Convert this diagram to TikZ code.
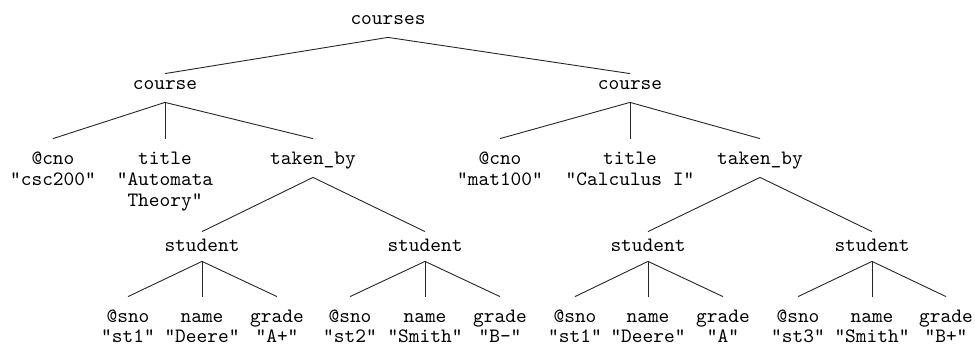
\documentclass[tikz,border=0pt]{standalone}
\usepackage{tikz}
\usepackage{xcolor}

\tikzset{
  tag/.style={font=\ttfamily\fontsize{10.2}{10.5}\selectfont, inner sep=0pt, anchor=base, text height=8pt, text depth=6pt},
  kid/.style={tag, text height=13pt},
  stu/.style={tag, text height=10pt, text depth=4.5pt},
  val/.style={font=\ttfamily\fontsize{10.2}{10.5}\selectfont, inner sep=0pt, anchor=base, align=center},
  twig/.style={draw=black!85, line width=0.45pt}
}

\begin{document}
\begin{tikzpicture}[x=0.5pt,y=-0.5pt]
\useasboundingbox (0,0) rectangle (975,352);
% root and the two courses
\node[tag] (courses) at (388,25) {courses};
\node[tag] (courseL) at (165,90) {course};
\node[tag] (courseR) at (630,90) {course};
\draw[twig] (courses.south) -- (courseL.north);
\draw[twig] (courses.south) -- (courseR.north);

% children of the first course
\node[kid] (cnoL) at (53,165) {@cno};
\node[kid] (titleL) at (165,165) {title};
\node[kid] (takenL) at (313,165) {taken\_by};
\node[val] (cnoLv) at (53,186) {"csc200"};
% base of a two-line node is its last line
\node[val] (titleLv) at (165,207) {"Automata\\Theory"};
\draw[twig] (courseL.south) -- (cnoL.north);
\draw[twig] (courseL.south) -- (titleL.north);
\draw[twig] (courseL.south) -- (takenL.north);

% children of the second course
\node[kid] (cnoR) at (500,165) {@cno};
\node[kid] (titleR) at (630,165) {title};
\node[kid] (takenR) at (760,165) {taken\_by};
\node[val] (cnoRv) at (500,186) {"mat100"};
\node[val] (titleRv) at (630,186) {"Calculus I"};
\draw[twig] (courseR.south) -- (cnoR.north);
\draw[twig] (courseR.south) -- (titleR.north);
\draw[twig] (courseR.south) -- (takenR.north);

% students
\node[stu] (stuLL) at (202,252) {student};
\node[stu] (stuLR) at (425,252) {student};
\node[stu] (stuRL) at (648,252) {student};
\node[stu] (stuRR) at (872,252) {student};
\draw[twig] (takenL.south) -- (stuLL.north);
\draw[twig] (takenL.south) -- (stuLR.north);
\draw[twig] (takenR.south) -- (stuRL.north);
\draw[twig] (takenR.south) -- (stuRR.north);

% student st1, csc200
\node[kid] (snoLL) at (128,323) {@sno};
\node[kid] (nameLL) at (202,323) {name};
\node[kid] (gradeLL) at (277,323) {grade};
\node[val] (snoLLv) at (128,343) {"st1"};
\node[val] (nameLLv) at (202,343) {"Deere"};
\node[val] (gradeLLv) at (277,343) {"A+"};
\draw[twig] (stuLL.south) -- (snoLL.north);
\draw[twig] (stuLL.south) -- (nameLL.north);
\draw[twig] (stuLL.south) -- (gradeLL.north);

% student st2, csc200
\node[kid] (snoLR) at (350,323) {@sno};
\node[kid] (nameLR) at (425,323) {name};
\node[kid] (gradeLR) at (500,323) {grade};
\node[val] (snoLRv) at (350,343) {"st2"};
\node[val] (nameLRv) at (425,343) {"Smith"};
\node[val] (gradeLRv) at (500,343) {"B-"};
\draw[twig] (stuLR.south) -- (snoLR.north);
\draw[twig] (stuLR.south) -- (nameLR.north);
\draw[twig] (stuLR.south) -- (gradeLR.north);

% student st1, mat100
\node[kid] (snoRL) at (575,323) {@sno};
\node[kid] (nameRL) at (648,323) {name};
\node[kid] (gradeRL) at (723,323) {grade};
\node[val] (snoRLv) at (575,343) {"st1"};
\node[val] (nameRLv) at (648,343) {"Deere"};
\node[val] (gradeRLv) at (723,343) {"A"};
\draw[twig] (stuRL.south) -- (snoRL.north);
\draw[twig] (stuRL.south) -- (nameRL.north);
\draw[twig] (stuRL.south) -- (gradeRL.north);

% student st3, mat100
\node[kid] (snoRR) at (798,323) {@sno};
\node[kid] (nameRR) at (872,323) {name};
\node[kid] (gradeRR) at (946,323) {grade};
\node[val] (snoRRv) at (798,343) {"st3"};
\node[val] (nameRRv) at (872,343) {"Smith"};
\node[val] (gradeRRv) at (946,343) {"B+"};
\draw[twig] (stuRR.south) -- (snoRR.north);
\draw[twig] (stuRR.south) -- (nameRR.north);
\draw[twig] (stuRR.south) -- (gradeRR.north);
\end{tikzpicture}
\end{document}
